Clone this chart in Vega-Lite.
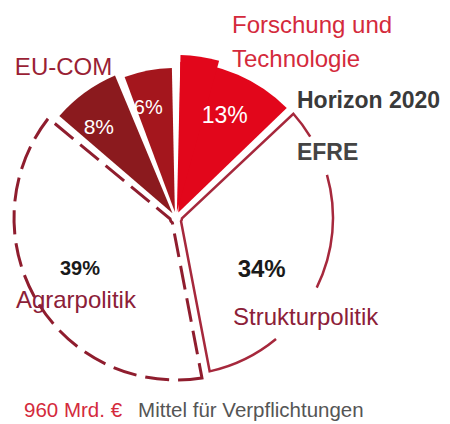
{
  "$schema": "https://vega.github.io/schema/vega-lite/v6.json",
  "width": 352,
  "height": 412,
  "autosize": "none",
  "padding": {"left": 0, "top": 12, "right": 98, "bottom": 0},
  "background": "white",
  "config": {"view": {"stroke": null}, "font": "Liberation Sans, Arial, sans-serif"},
  "data": {
    "values": [
      {"seg": "F1", "group": "Forschung und\nTechnologie", "value": 4.7, "order": 1},
      {"seg": "F2", "group": "Forschung und\nTechnologie", "value": 8.3, "order": 2},
      {"seg": "Struktur", "group": "Strukturpolitik", "value": 34, "order": 3},
      {"seg": "Agrar", "group": "Agrarpolitik", "value": 39, "order": 4},
      {"seg": "EU8", "group": "EU-COM", "value": 8, "order": 5},
      {"seg": "EU6", "group": "EU-COM", "value": 6, "order": 6}
    ]
  },
  "transform": [
    {"stack": "value", "groupby": [], "sort": [{"field": "order", "order": "ascending"}], "as": ["t0", "t1"]},
    {"joinaggregate": [
      {"op": "min", "field": "t0", "as": "g0"},
      {"op": "max", "field": "t1", "as": "g1"},
      {"op": "sum", "field": "value", "as": "gsum"}
    ], "groupby": ["group"]},
    {"calculate": "(datum.t0 + datum.t1) / 2", "as": "mid"},
    {"calculate": "(datum.g0 + datum.g1) / 2", "as": "gmid"},
    {"calculate": "datum.gsum / 100", "as": "gfrac"},
    {"calculate": "datum.value / 100", "as": "frac"}
  ],
  "layer": [
    {
      "transform": [{"filter": "datum.seg === 'F2'"}],
      "mark": {"type": "arc", "radius": 156, "innerRadius": 6, "padAngle": 0.055, "fill": "#e2061b"},
      "encoding": {
        "theta": {"field": "g0", "type": "quantitative", "stack": null, "scale": {"domain": [0, 100]}},
        "theta2": {"field": "g1"}
      }
    },
    {
      "transform": [{"filter": "datum.seg === 'F1'"}],
      "mark": {"type": "arc", "radius": 163, "innerRadius": 6, "padAngle": 0.055, "fill": "#e2061b"},
      "encoding": {
        "theta": {"field": "t0", "type": "quantitative", "stack": null, "scale": {"domain": [0, 100]}},
        "theta2": {"field": "t1"}
      }
    },
    {
      "transform": [{"filter": "datum.seg === 'Struktur'"}],
      "mark": {"type": "arc", "radius": 157, "innerRadius": 6, "padAngle": 0.055, "fill": "transparent", "stroke": "#a6283c", "strokeWidth": 2.5, "strokeDash": [28.5, 42, 115.5, 66, 2000, 0]},
      "encoding": {
        "theta": {"field": "t0", "type": "quantitative", "stack": null, "scale": {"domain": [0, 100]}},
        "theta2": {"field": "t1"}
      }
    },
    {
      "transform": [{"filter": "datum.seg === 'Agrar'"}],
      "mark": {"type": "arc", "radius": 162, "innerRadius": 6, "padAngle": 0.055, "fill": "transparent", "stroke": "#8f1d2e", "strokeWidth": 3, "strokeDash": [24, 9]},
      "encoding": {
        "theta": {"field": "t0", "type": "quantitative", "stack": null, "scale": {"domain": [0, 100]}},
        "theta2": {"field": "t1"}
      }
    },
    {
      "transform": [{"filter": "datum.seg === 'EU8'"}],
      "mark": {"type": "arc", "radius": 155, "innerRadius": 6, "padAngle": 0.055, "fill": "#8b1a1e"},
      "encoding": {
        "theta": {"field": "t0", "type": "quantitative", "stack": null, "scale": {"domain": [0, 100]}},
        "theta2": {"field": "t1"}
      }
    },
    {
      "transform": [{"filter": "datum.seg === 'EU6'"}],
      "mark": {"type": "arc", "radius": 150, "innerRadius": 6, "padAngle": 0.055, "fill": "#a4161d"},
      "encoding": {
        "theta": {"field": "t0", "type": "quantitative", "stack": null, "scale": {"domain": [0, 100]}},
        "theta2": {"field": "t1"}
      }
    },
    {
      "transform": [{"filter": "datum.seg === 'F2'"}],
      "mark": {"type": "text", "radius": 115, "dx": 3, "dy": 4, "align": "center", "baseline": "middle", "fontSize": 23, "color": "white"},
      "encoding": {
        "theta": {"field": "gmid", "type": "quantitative", "stack": null, "scale": {"domain": [0, 100]}},
        "text": {"field": "gfrac", "type": "quantitative", "format": ".0%"}
      }
    },
    {
      "transform": [{"filter": "datum.seg === 'EU8'"}],
      "mark": {"type": "text", "radius": 116, "dx": -9, "dy": 4, "align": "center", "baseline": "middle", "fontSize": 21, "color": "white"},
      "encoding": {
        "theta": {"field": "mid", "type": "quantitative", "stack": null, "scale": {"domain": [0, 100]}},
        "text": {"field": "frac", "type": "quantitative", "format": ".0%"}
      }
    },
    {
      "transform": [{"filter": "datum.seg === 'EU6'"}],
      "mark": {"type": "text", "radius": 116, "dx": -6, "dy": 4, "align": "center", "baseline": "middle", "fontSize": 20, "color": "white"},
      "encoding": {
        "theta": {"field": "mid", "type": "quantitative", "stack": null, "scale": {"domain": [0, 100]}},
        "text": {"field": "frac", "type": "quantitative", "format": ".0%"}
      }
    },
    {
      "transform": [{"filter": "datum.seg === 'Agrar'"}],
      "mark": {"type": "text", "radius": 107, "dx": -4, "dy": 2.5, "align": "center", "baseline": "alphabetic", "fontSize": 20, "fontWeight": "bold", "color": "#1a1a1a"},
      "encoding": {
        "theta": {"field": "mid", "type": "quantitative", "stack": null, "scale": {"domain": [0, 100]}},
        "text": {"field": "gfrac", "type": "quantitative", "format": ".0%"}
      }
    },
    {
      "transform": [{"filter": "datum.seg === 'Agrar'"}],
      "mark": {"type": "text", "radius": 107, "dx": -8, "dy": 35.5, "align": "center", "baseline": "alphabetic", "fontSize": 24, "color": "#8c2038"},
      "encoding": {
        "theta": {"field": "mid", "type": "quantitative", "stack": null, "scale": {"domain": [0, 100]}},
        "text": {"field": "group", "type": "nominal"}
      }
    },
    {
      "transform": [{"filter": "datum.seg === 'Struktur'"}],
      "mark": {"type": "text", "radius": 98.5, "dx": -8, "dy": 28.6, "align": "center", "baseline": "alphabetic", "fontSize": 24, "fontWeight": "bold", "color": "#1a1a1a"},
      "encoding": {
        "theta": {"field": "mid", "type": "quantitative", "stack": null, "scale": {"domain": [0, 100]}},
        "text": {"field": "gfrac", "type": "quantitative", "format": ".0%"}
      }
    },
    {
      "transform": [{"filter": "datum.seg === 'Struktur'"}],
      "mark": {"type": "text", "radius": 98.5, "dx": 36, "dy": 77, "align": "center", "baseline": "alphabetic", "fontSize": 24, "color": "#8c2038"},
      "encoding": {
        "theta": {"field": "mid", "type": "quantitative", "stack": null, "scale": {"domain": [0, 100]}},
        "text": {"field": "group", "type": "nominal"}
      }
    },
    {
      "transform": [{"filter": "datum.seg === 'F2'"}],
      "mark": {"type": "text", "radius": 172, "dx": -4.4, "dy": 7.8, "align": "left", "baseline": "alphabetic", "fontSize": 23, "fontWeight": "bold", "color": "#3a3a3a", "text": "Horizon 2020"},
      "encoding": {
        "theta": {"field": "t1", "type": "quantitative", "stack": null, "scale": {"domain": [0, 100]}}
      }
    },
    {
      "transform": [{"filter": "datum.seg === 'F2'"}],
      "mark": {"type": "text", "radius": 172, "dx": -4.4, "dy": 59.8, "align": "left", "baseline": "alphabetic", "fontSize": 23, "fontWeight": "bold", "color": "#444444", "text": "EFRE"},
      "encoding": {
        "theta": {"field": "t1", "type": "quantitative", "stack": null, "scale": {"domain": [0, 100]}}
      }
    },
    {
      "transform": [{"filter": "datum.seg === 'F1'"}],
      "mark": {"type": "text", "radius": 185, "dx": 56, "dy": 0, "align": "left", "baseline": "alphabetic", "fontSize": 24, "color": "#d42a3c", "lineBreak": "\n", "lineHeight": 34},
      "encoding": {
        "theta": {"field": "t0", "type": "quantitative", "stack": null, "scale": {"domain": [0, 100]}},
        "text": {"field": "group", "type": "nominal"}
      }
    },
    {
      "transform": [{"filter": "datum.seg === 'EU8'"}],
      "mark": {"type": "text", "radius": 185, "dx": -33.7, "dy": 24.4, "align": "center", "baseline": "alphabetic", "fontSize": 24, "color": "#9a1f35"},
      "encoding": {
        "theta": {"field": "gmid", "type": "quantitative", "stack": null, "scale": {"domain": [0, 100]}},
        "text": {"field": "group", "type": "nominal"}
      }
    },
    {
      "transform": [{"filter": "datum.seg === 'Agrar'"}],
      "mark": {"type": "text", "radius": 202, "dx": -91.8, "dy": 0.6, "align": "right", "baseline": "alphabetic", "fontSize": 20.5, "color": "#d42a3c", "text": "960 Mrd. €"},
      "encoding": {
        "theta": {"field": "t0", "type": "quantitative", "stack": null, "scale": {"domain": [0, 100]}}
      }
    },
    {
      "transform": [{"filter": "datum.seg === 'Agrar'"}],
      "mark": {"type": "text", "radius": 202, "dx": -75.8, "dy": 0.6, "align": "left", "baseline": "alphabetic", "fontSize": 20.5, "color": "#555555", "text": "Mittel für Verpflichtungen"},
      "encoding": {
        "theta": {"field": "t0", "type": "quantitative", "stack": null, "scale": {"domain": [0, 100]}}
      }
    }
  ]
}
